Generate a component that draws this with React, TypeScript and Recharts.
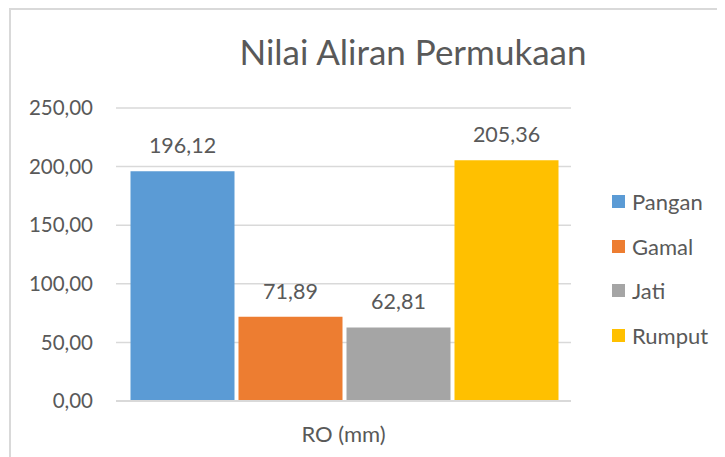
import React from 'react';
import { BarChart, Bar, XAxis, YAxis, CartesianGrid, LabelList } from 'recharts';

const categories = ['RO (mm)'];
const seriesNames = ['Pangan', 'Gamal', 'Jati', 'Rumput'];
const seriesValues = [196.12, 71.89, 62.81, 205.36];
const seriesColors = ['#5B9BD5', '#ED7D31', '#A5A5A5', '#FFC000'];
const yTicks = [0, 50, 100, 150, 200, 250];

const data = categories.map((c) => {
  const row: any = { name: c };
  seriesNames.forEach((s, i) => (row[s] = seriesValues[i]));
  return row;
});

const FONT = 'Lato, "Open Sans", sans-serif';
const TEXT = '#595959';
const fmt = (v: any) => Number(v).toFixed(2).replace('.', ',');

const LegendBox = () => (
  <div style={{ position: 'absolute', left: 604, top: 171, fontFamily: FONT, fontSize: 22, color: TEXT }}>
    {seriesNames.map((s, i) => (
      <div key={s} style={{ display: 'flex', alignItems: 'center', height: 44.7 }}>
        <div style={{ width: 13, height: 13, background: seriesColors[i], marginRight: 7 }} />
        <span>{s}</span>
      </div>
    ))}
  </div>
);

const XTick = (props: any) => {
  const { x, y, payload } = props;
  return (
    <text x={x} y={y + 33} textAnchor="middle" fill={TEXT} fontFamily={FONT} fontSize={22}>
      {payload.value}
    </text>
  );
};

export default function App() {
  return (
    <div style={{ position: 'relative', width: 717, height: 449, overflow: 'hidden', background: '#fff' }}>
      <div
        style={{
          position: 'absolute',
          left: 1,
          top: 0,
          width: 800,
          height: 600,
          borderTop: '2px solid #D9D9D9',
          borderLeft: '2px solid #D9D9D9',
          boxSizing: 'border-box',
        }}
      />
      <div
        style={{
          position: 'absolute',
          left: 0,
          width: 810,
          top: 23,
          textAlign: 'center',
          fontFamily: FONT,
          fontSize: 35,
          color: TEXT,
          lineHeight: '40px',
        }}
      >
        Nilai Aliran Permukaan
      </div>
      <div style={{ position: 'absolute', left: 0, top: 0 }}>
        <BarChart
          width={717}
          height={449}
          data={data}
          margin={{ top: 100, right: 154, left: 0, bottom: 0 }}
          barGap={4}
          barCategoryGap={14.5}
        >
          <CartesianGrid vertical={false} stroke="#D9D9D9" strokeWidth={1.5} />
          <XAxis
            dataKey="name"
            height={56}
            axisLine={{ stroke: '#D9D9D9', strokeWidth: 2 }}
            tickLine={false}
            tick={<XTick />}
          />
          <YAxis
            width={108}
            domain={[0, 250]}
            ticks={yTicks}
            axisLine={false}
            tickLine={false}
            tickSize={0}
            tickMargin={23}
            tickFormatter={fmt}
            tick={{ fill: TEXT, fontFamily: FONT, fontSize: 20.5 }}
          />
          {seriesNames.map((s, i) => (
            <Bar key={s} dataKey={s} fill={seriesColors[i]} isAnimationActive={false}>
              <LabelList
                dataKey={s}
                position="top"
                offset={18}
                formatter={fmt}
                fill={TEXT}
                fontFamily={FONT}
                fontSize={21.5}
              />
            </Bar>
          ))}
        </BarChart>
      </div>
      <LegendBox />
    </div>
  );
}
